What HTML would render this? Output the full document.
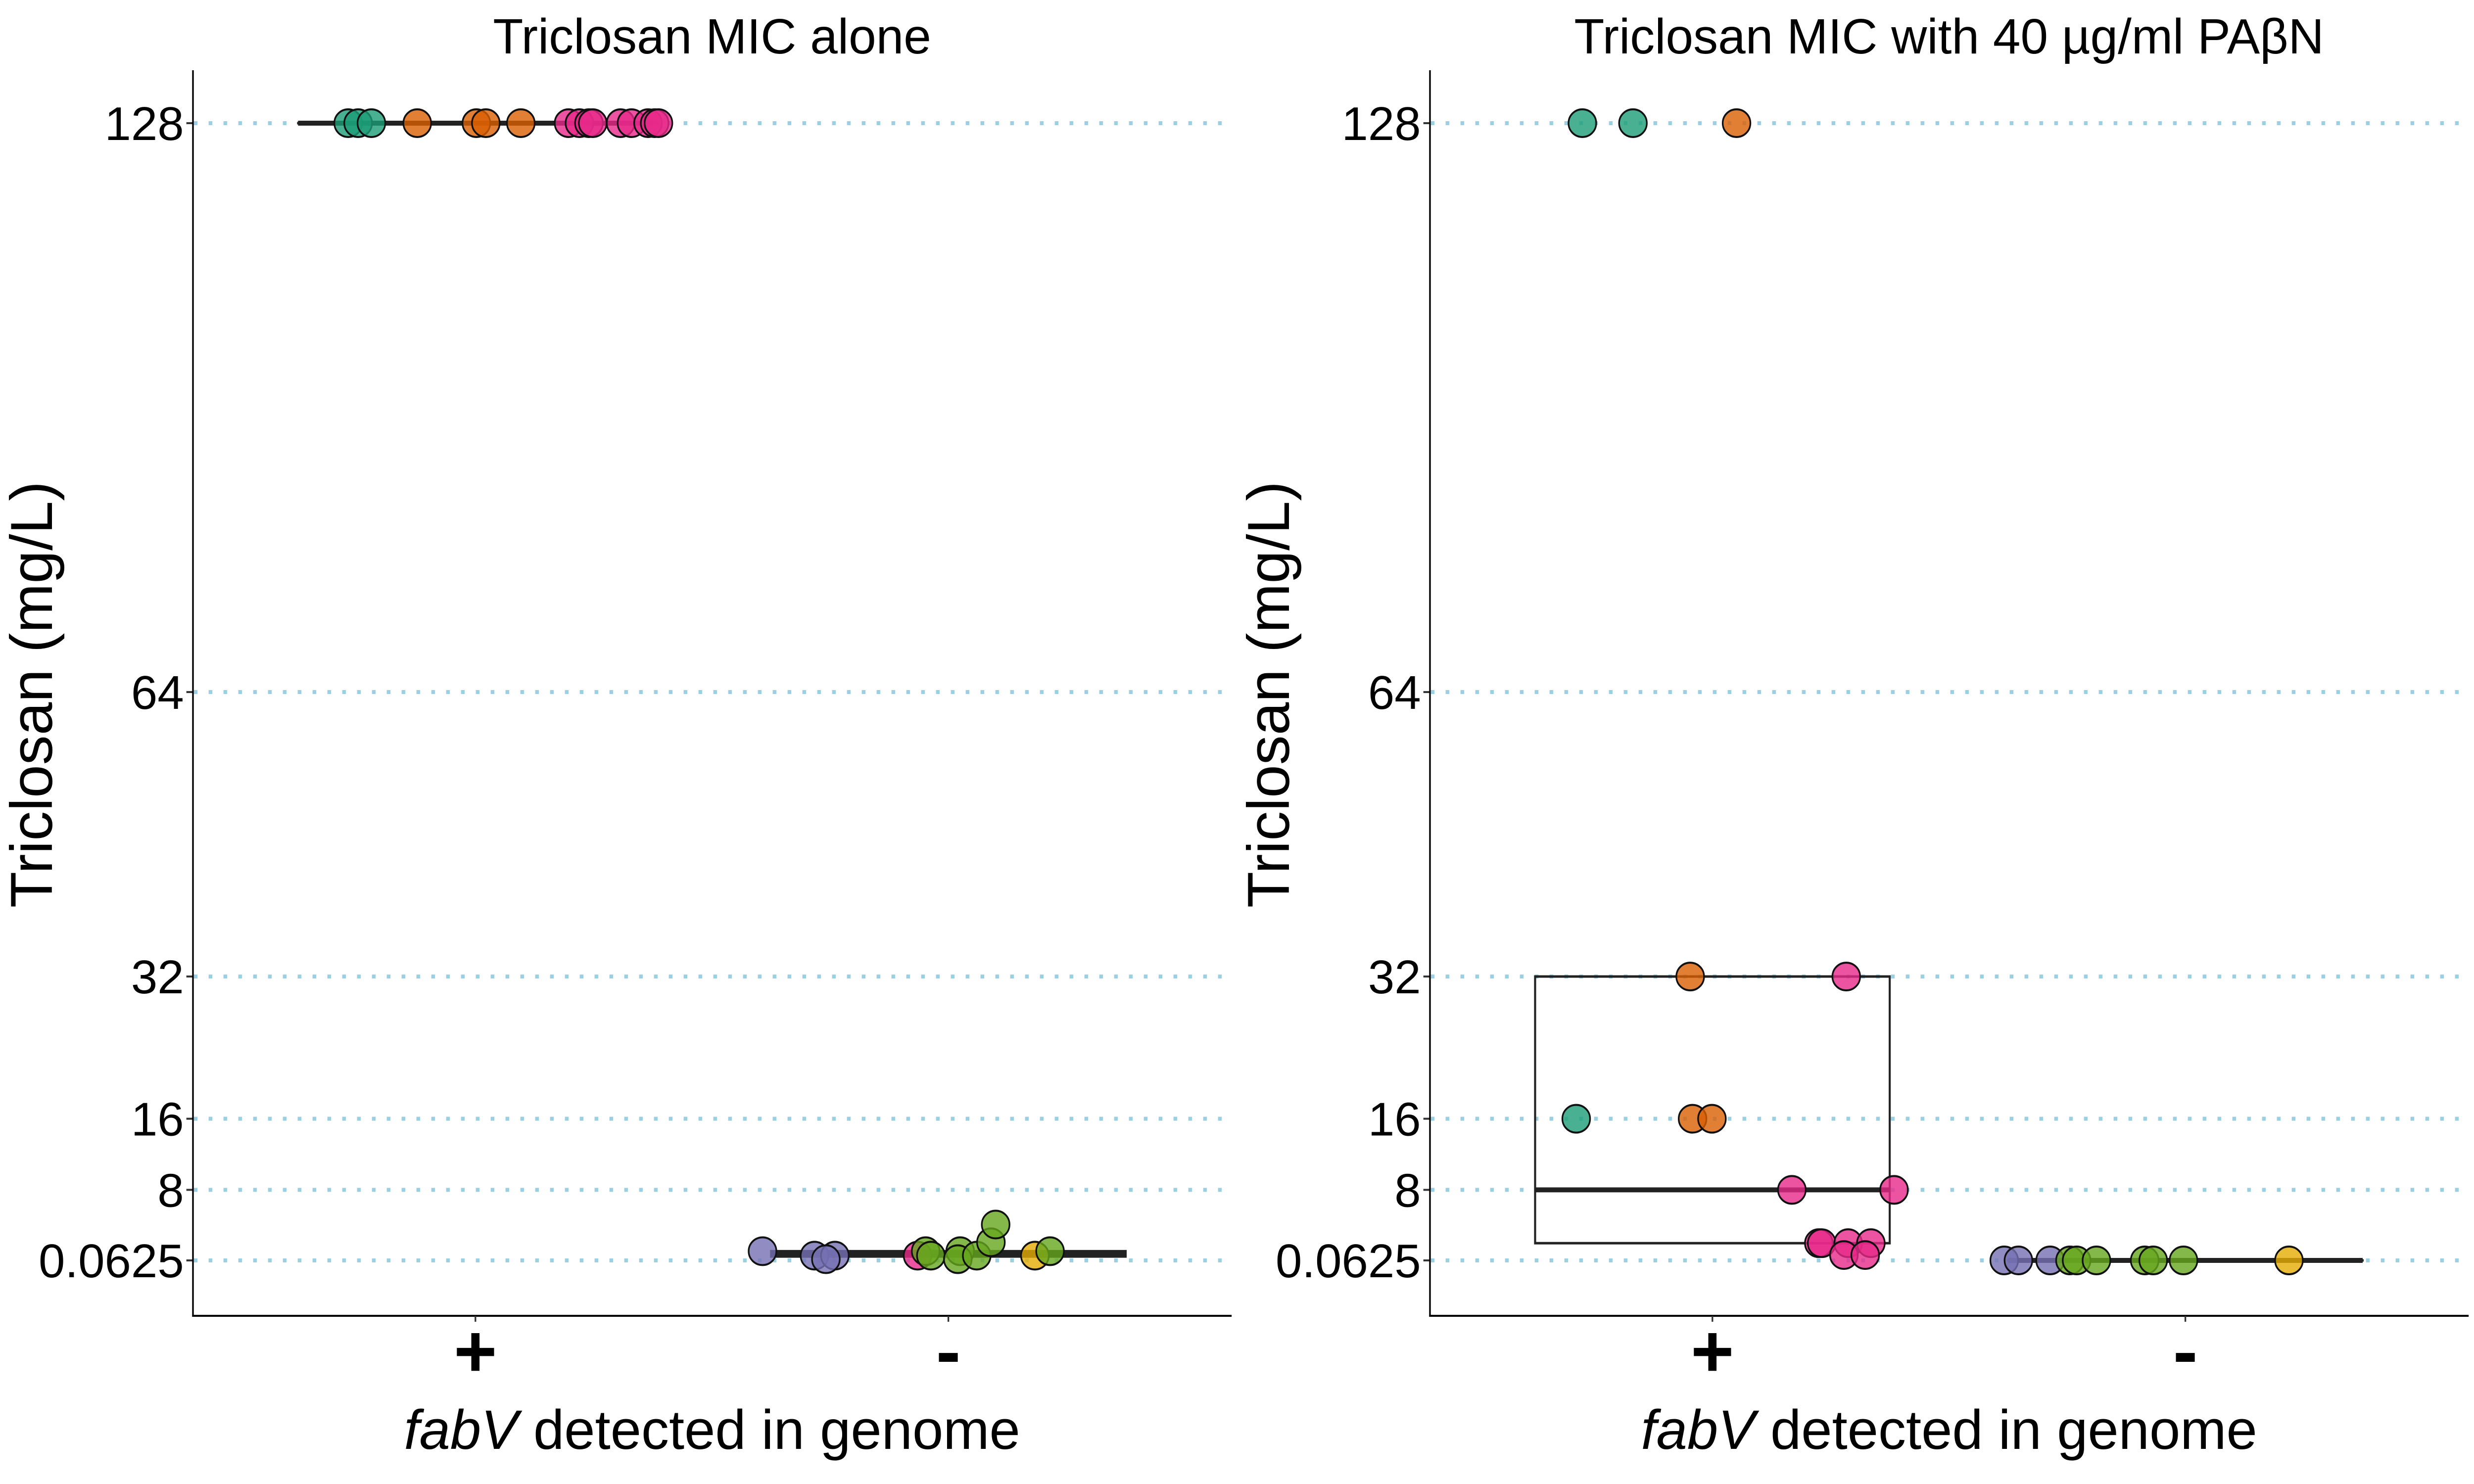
<!DOCTYPE html>
<html><head><meta charset="utf-8"><style>
html,body{margin:0;padding:0;background:#fff;overflow:hidden;width:100vw;height:100vh}
svg{display:block;width:100vw;height:100vh}
text{font-family:"Liberation Sans",sans-serif;fill:#000}
</style></head><body>
<svg id="chart" viewBox="0 0 6000 3000" preserveAspectRatio="none" xmlns="http://www.w3.org/2000/svg"></svg>
<script>
const yTicks=[0.0625,8,16,32,64,128];
const yTickLabels=["0.0625","8","16","32","64","128"];
const categories=["+","-"];
const panelTitles=["Triclosan MIC alone","Triclosan MIC with 40 µg/ml PAβN"];
const colors={g:"#1b9e77",o:"#d95f02",p:"#7570b3",m:"#e7298a",l:"#66a61e",y:"#e6ab02"};
const p1X=[0.731,0.752,0.780,0.877,1.002,1.022,1.096,1.197,1.220,1.240,1.248,1.307,1.330,1.365,1.379,1.387,
 1.607,1.717,1.760,1.741,1.935,1.952,1.963,2.025,2.020,2.060,2.090,2.100,2.183,2.215];
const p1V=[128,128,128,128,128,128,128,128,128,128,128,128,128,128,128,128,
 1.1,0.6,0.6,0.2,0.6,1.1,0.6,1.1,0.2,0.6,2.1,4.1,0.6,1.1];
const p1C=["g","g","g","o","o","o","o","m","m","m","m","m","m","m","m","m",
 "p","p","p","p","m","l","l","l","l","l","l","l","y","l"];
const p2X=[0.725,0.832,1.051,0.953,1.283,0.712,0.958,0.999,1.168,1.384,1.225,1.231,1.287,1.335,1.278,1.323,
 1.617,1.647,1.714,1.756,1.770,1.812,1.914,1.932,1.996,2.219];
const p2V=[128,128,128,32,32,16,16,16,8,8,2,2,2,2,0.67,0.67,
 0.0625,0.0625,0.0625,0.0625,0.0625,0.0625,0.0625,0.0625,0.0625,0.0625];
const p2C=["g","g","o","o","m","g","o","o","m","m","m","m","m","m","m","m",
 "p","p","p","l","l","l","l","l","l","y"];
const box1=[[128,128,128],[0.5,0.9,1.1]];
const box2=[[2,8,32],[0.0625,0.0625,0.0625]];
const panels=[{ox:0,x:p1X,v:p1V,c:p1C,box:box1},{ox:3000,x:p2X,v:p2V,c:p2C,box:box2}];

const NS="http://www.w3.org/2000/svg";
const svg=document.getElementById("chart");
const vw=window.innerWidth||6000, vh=window.innerHeight||3000;
let K=(vh/3000)/(vw/6000); if(!isFinite(K)||K<=0) K=1;
function mk(tag,attrs,parent,txt){const e=document.createElementNS(NS,tag);for(const k in attrs)e.setAttribute(k,attrs[k]);if(txt!==undefined)e.textContent=txt;(parent||svg).appendChild(e);return e;}
function fixText(el,x,y){el.setAttribute("transform","translate("+x+","+y+") scale("+K+",1) translate("+(-x)+","+(-y)+")");}
const Y0=2548,YK=17.97;
function yS(v){return Y0-(v-0.0625)*YK;}
function xS(ox,c){return ox+1153+(c-1)*1147;}

panels.forEach((P,pi)=>{
  const ox=P.ox;
  const g=mk("g",{});
  
  
  const t=mk("text",{x:ox+1727,y:108,"font-size":100,"text-anchor":"middle"},g,panelTitles[pi]);
  
  
  fixText(t,ox+1727,108);
  yTicks.forEach((v,i)=>{
    const gl=mk("line",{x1:ox+470,x2:ox+2987,y1:yS(v),y2:yS(v),stroke:"#9ecfe0","stroke-width":8,"stroke-dasharray":"9 27"},g);
    
    
    mk("line",{x1:ox+452,x2:ox+468,y1:yS(v),y2:yS(v),stroke:"#333","stroke-width":4},g);
    const tl=mk("text",{x:ox+446,y:yS(v)+34,"font-size":96,"text-anchor":"end"},g,yTickLabels[i]);
    
    
    fixText(tl,ox+446,yS(v)+34);
  });
  P.box.forEach((b,ci)=>{
    const cx=xS(ox,ci+1),x1=cx-430,x2=cx+430;
    const r=mk("rect",{x:x1,y:yS(b[2]),width:860,height:Math.max(yS(b[0])-yS(b[2]),0.01),fill:"none",stroke:"#222","stroke-width":5},g);
    
    
    const m=mk("line",{x1:x1,x2:x2,y1:yS(b[1]),y2:yS(b[1]),stroke:"#222","stroke-width":10},g);
    
    
  });
  P.x.forEach((xv,i)=>{
    const c=mk("ellipse",{cx:xS(ox,xv),cy:yS(P.v[i]),rx:28*K,ry:28,fill:colors[P.c[i]],"fill-opacity":0.8,stroke:"#111","stroke-width":4},g);
    
    
  });
  const ya=mk("line",{x1:ox+468,x2:ox+468,y1:142,y2:2662,stroke:"#000","stroke-width":4},g);
  
  
  const xa=mk("line",{x1:ox+466,x2:ox+2987,y1:2660,y2:2660,stroke:"#000","stroke-width":4},g);
  
  
  categories.forEach((cat,ci)=>{
    const cx=xS(ox,ci+1);
    mk("line",{x1:cx,x2:cx,y1:2660,y2:2672,stroke:"#333","stroke-width":4},g);
    const xl=mk("text",{x:cx,y:2783,"font-size":150,"font-weight":"bold","text-anchor":"middle"},g,cat);
    
    
    fixText(xl,cx,2783);
  });
  const xt=mk("text",{x:ox+1727,y:2929,"font-size":112,"text-anchor":"middle"},g);
  
  
  mk("tspan",{"font-style":"italic"},xt,"fabV");
  mk("tspan",{},xt," detected in genome");
  fixText(xt,ox+1727,2929);
  const yt=mk("text",{x:0,y:0,"font-size":120,"text-anchor":"middle",transform:"translate("+(ox+126)+",1404) rotate(-90) scale(1,"+K+")"},g,"Triclosan (mg/L)");
  
  
});
</script>
</body></html>
